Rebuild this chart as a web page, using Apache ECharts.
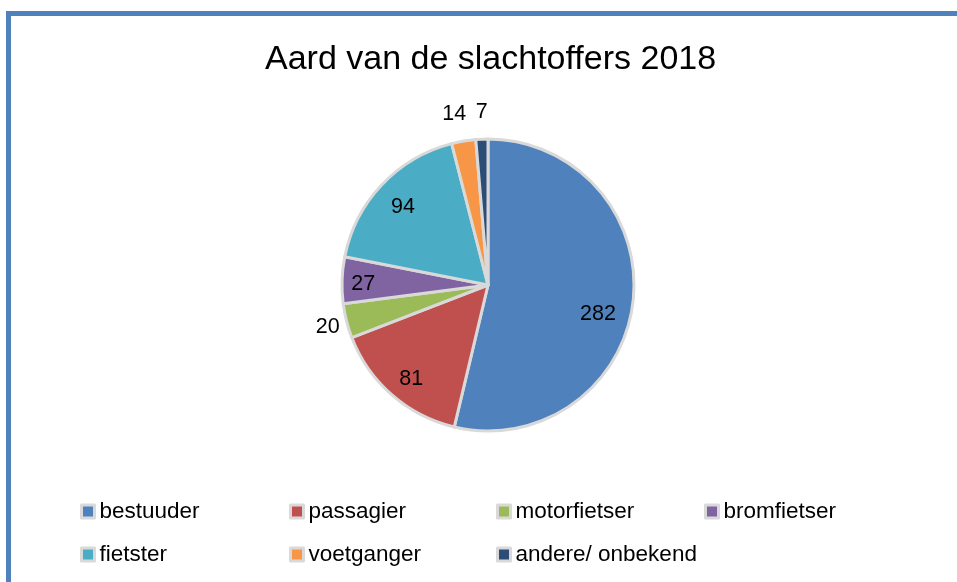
<!DOCTYPE html>
<html>
<head>
<meta charset="utf-8">
<script src="https://cdn.jsdelivr.net/npm/echarts@6/dist/echarts.min.js"></script>
<style>
  html, body { margin: 0; padding: 0; background: #fff; }
  #chart { width: 957px; height: 582px; }
</style>
</head>
<body>
<div id="chart"></div>
<script>
// data
var categories = ['bestuuder', 'passagier', 'motorfietser', 'bromfietser', 'fietster', 'voetganger', 'andere/ onbekend'];
var values = [282, 81, 20, 27, 94, 14, 7];
var colors = ['#4F81BD', '#C0504D', '#9BBB59', '#8064A2', '#4BACC6', '#F79646', '#2C4D75'];
// which labels sit inside the slice, and outside ones get a label line length
var insideLabel = [true, true, false, true, true, false, false];
var outsideLen = [0, 0, 10, 0, 0, 27, 27];
var outsideLen2 = [0, 0, -8, 0, 0, -12, -12];

var font = 'Liberation Sans, Arial, sans-serif';
var center = [488, 285];
var R = 146;

var mainData = [], labelData = [];
for (var i = 0; i < categories.length; i++) {
  mainData.push({
    name: categories[i],
    value: values[i],
    itemStyle: { color: colors[i] },
    label: { show: !insideLabel[i] },
    labelLine: { show: false, length: outsideLen[i], length2: outsideLen2[i] }
  });
  labelData.push({
    name: categories[i],
    value: values[i],
    label: { show: insideLabel[i] }
  });
}

// legend laid out as a 4-column grid, one legend per item
var legendCols = [75, 284, 491, 699];
var legendRows = [495, 538];
var legends = [];
for (var j = 0; j < categories.length; j++) {
  legends.push({
    data: [categories[j]],
    left: legendCols[j % 4],
    top: legendRows[Math.floor(j / 4)],
    icon: 'rect',
    itemWidth: 13,
    itemHeight: 13,
    selectedMode: false,
    itemStyle: { borderColor: '#d9d9d9', borderWidth: 3 },
    textStyle: { fontFamily: font, fontSize: 22.5, color: '#000' }
  });
}

var chart = echarts.init(document.getElementById('chart'), null, { renderer: 'canvas' });
chart.setOption({
  animation: false,
  title: {
    text: 'Aard van de slachtoffers 2018',
    left: 260,
    top: 38,
    textStyle: { fontFamily: font, fontSize: 34, fontWeight: 'normal', color: '#000' }
  },
  legend: legends,
  graphic: [
    { type: 'rect', shape: { x: 6, y: 11, width: 951, height: 5 }, style: { fill: '#4F81BD' } },
    { type: 'rect', shape: { x: 6, y: 11, width: 5, height: 571 }, style: { fill: '#4F81BD' } }
  ],
  series: [
    {
      type: 'pie',
      center: center,
      radius: [0, R],
      startAngle: 90,
      clockwise: true,
      avoidLabelOverlap: false,
      itemStyle: { borderColor: '#d9d9d9', borderWidth: 3 },
      label: { position: 'outside', formatter: '{c}', fontFamily: font, fontSize: 21.5, color: '#000' },
      labelLayout: function (p) {
        if (p.dataIndex === 2) return { dy: 4 };
      },
      emphasis: { disabled: true },
      data: mainData
    },
    {
      // transparent ring only used to place the inside labels at ~0.8R
      type: 'pie',
      center: center,
      radius: [R * 0.6, R],
      startAngle: 90,
      clockwise: true,
      silent: true,
      avoidLabelOverlap: false,
      itemStyle: { color: 'rgba(0,0,0,0)', borderWidth: 0 },
      label: { position: 'inside', formatter: '{c}', fontFamily: font, fontSize: 21.5, color: '#000' },
      labelLine: { show: false },
      // Excel's "best fit" pulls the big slice's label a bit lower and inward
      labelLayout: function (p) {
        if (p.dataIndex === 0) return { dx: -9, dy: 15 };
        if (p.dataIndex === 1) return { dx: 2, dy: 4 };
        if (p.dataIndex === 3) return { dx: -5, dy: 3 };
        if (p.dataIndex === 4) return { dx: 2, dy: 4 };
      },
      emphasis: { disabled: true },
      data: labelData
    }
  ]
});
</script>
</body>
</html>
